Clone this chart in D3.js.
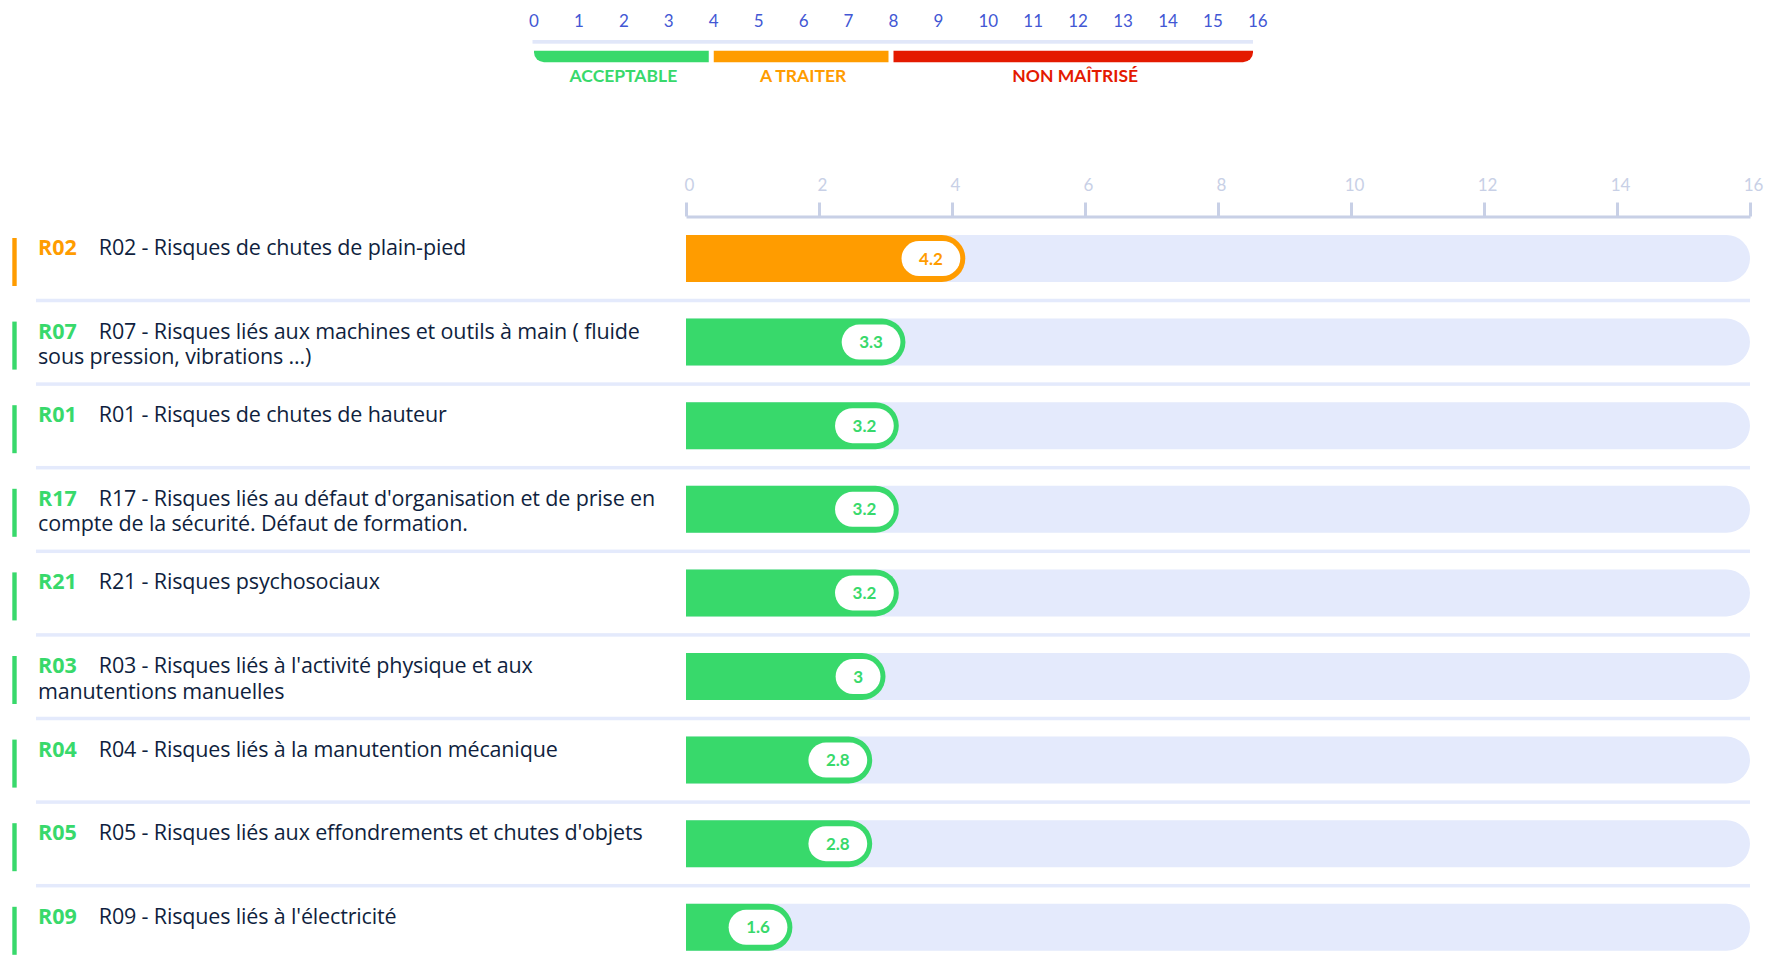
<!DOCTYPE html>
<html>
<head>
<meta charset="utf-8">
<script src="https://cdn.jsdelivr.net/npm/d3@7"></script>
<style>
  html, body { margin: 0; padding: 0; background: #ffffff; }
  svg { display: block; font-family: Lato, "Open Sans", sans-serif; }
</style>
</head>
<body>
<svg id="chart" width="1769" height="963"></svg>
<script>
// ---------- data ----------
const codes = ["R02", "R07", "R01", "R17", "R21", "R03", "R04", "R05", "R09"];
const labels = [
  "R02 - Risques de chutes de plain-pied",
  "R07 - Risques liés aux machines et outils à main ( fluide\nsous pression, vibrations ...)",
  "R01 - Risques de chutes de hauteur",
  "R17 - Risques liés au défaut d'organisation et de prise en\ncompte de la sécurité. Défaut de formation.",
  "R21 - Risques psychosociaux",
  "R03 - Risques liés à l'activité physique et aux\nmanutentions manuelles",
  "R04 - Risques liés à la manutention mécanique",
  "R05 - Risques liés aux effondrements et chutes d'objets",
  "R09 - Risques liés à l'électricité"
];
const values = [4.2, 3.3, 3.2, 3.2, 3.2, 3, 2.8, 2.8, 1.6];

const levelNames = ["ACCEPTABLE", "A TRAITER", "NON MAÎTRISÉ"];
const levelBounds = [0, 4, 8, 16];
const levelColors = ["#38d96b", "#ff9c00", "#e41a00"];
const topTicks = d3.range(0, 17);
const axisTicks = [0, 2, 4, 6, 8, 10, 12, 14, 16];

// ---------- setup ----------
const svg = d3.select("#chart");
const levelColor = v => levelColors[Math.min(levelColors.length - 1, d3.bisectRight(levelBounds, v) - 1)];

function roundedPath(x0, x1, y0, h, rRight) {
  const r = Math.min(rRight, (x1 - x0));
  return `M${x0},${y0}H${x1 - r}A${r},${r} 0 0 1 ${x1},${y0 + r}` +
         `V${y0 + h - r}A${r},${r} 0 0 1 ${x1 - r},${y0 + h}H${x0}Z`;
}

// ---------- top legend scale ----------
const tx = d3.scaleLinear().domain([0, 16]).range([534, 1253]);

svg.append("g").selectAll("text").data(topTicks).join("text")
  .attr("x", d => tx(d) - 5)
  .attr("y", 27)
  .attr("text-anchor", "start")
  .attr("font-size", 17)
  .attr("fill", "#4257d4")
  .text(d => d);

svg.append("rect")
  .attr("x", tx(0) - 1.5).attr("y", 40)
  .attr("width", tx(16) - tx(0) + 1.5).attr("height", 3.7)
  .attr("fill", "#e1e7f9");

const bandY = 50.7, bandH = 11.6, bandR = 10;
levelNames.forEach((name, i) => {
  const x0 = tx(levelBounds[i]);
  const x1 = i < levelNames.length - 1 ? tx(levelBounds[i + 1]) - 5 : tx(levelBounds[i + 1]);
  let p;
  if (i === 0) {
    p = `M${x0},${bandY}H${x1}V${bandY + bandH}H${x0 + bandR}A${bandR},${bandR} 0 0 1 ${x0},${bandY + bandH - bandR}Z`;
  } else if (i === levelNames.length - 1) {
    p = `M${x0},${bandY}H${x1}V${bandY + bandH - bandR}A${bandR},${bandR} 0 0 1 ${x1 - bandR},${bandY + bandH}H${x0}Z`;
  } else {
    p = `M${x0},${bandY}H${x1}V${bandY + bandH}H${x0}Z`;
  }
  svg.append("path").attr("d", p).attr("fill", levelColors[i]);
  svg.append("text")
    .attr("x", (x0 + x1) / 2 + 2).attr("y", 81.7)
    .attr("text-anchor", "middle")
    .attr("font-size", 17.5).attr("font-weight", 700)
    .attr("fill", levelColors[i])
    .text(name);
});

// ---------- main chart ----------
const x = d3.scaleLinear().domain([0, 16]).range([686, 1750]);
const step = 83.6, barH = 47;
const y = d3.scaleBand().domain(codes)
  .range([235, 235 + step * (codes.length - (1 - barH / step))])
  .paddingInner(1 - barH / step).paddingOuter(0);

const axisY = 216.5;
const axis = d3.axisTop(x).tickValues(axisTicks).tickSize(14).tickSizeOuter(0).tickPadding(12);
const gAxis = svg.append("g").attr("transform", `translate(0,${axisY})`).call(axis);
gAxis.select(".domain").attr("stroke", "#c8d0e6").attr("stroke-width", 3);
gAxis.selectAll(".tick line").attr("stroke", "#c8d0e6").attr("stroke-width", 3);
gAxis.selectAll(".tick text").attr("fill", "#c8d0e6").attr("font-size", 17)
  .attr("font-family", "Lato, sans-serif").attr("dx", 3);

const rows = svg.append("g").selectAll("g.row").data(codes).join("g").attr("class", "row");

// separators
rows.filter((d, i) => i < codes.length - 1).append("rect")
  .attr("x", 36).attr("width", 1750 - 36)
  .attr("y", d => y(d) + barH + 18.5 - 1.75).attr("height", 3.5)
  .attr("fill", "#e4eafc");

// left indicators
rows.append("rect")
  .attr("x", 12.3).attr("width", 4.4)
  .attr("y", d => y(d) + 3).attr("height", 48)
  .attr("fill", (d, i) => levelColor(values[i]));

// label text
rows.each(function(d, i) {
  const g = d3.select(this);
  const lines = labels[i].split("\n");
  const t = g.append("text")
    .attr("x", 38).attr("y", y(d) + 20)
    .attr("font-family", "'Open Sans', sans-serif")
    .attr("letter-spacing", -0.15)
    .attr("font-size", 21.5).attr("fill", "#101f3e");
  t.append("tspan").attr("font-weight", 700).attr("letter-spacing", 0)
    .attr("fill", levelColor(values[i])).text(d);
  t.append("tspan").attr("dx", 22).text(lines[0]);
  lines.slice(1).forEach(l => {
    t.append("tspan").attr("x", 38).attr("dy", 25.5).text(l);
  });
});

// background bars
rows.append("path")
  .attr("d", d => roundedPath(x(0), x(16), y(d), barH, barH / 2))
  .attr("fill", "#e4eafc");

// value bars
rows.append("path")
  .attr("d", (d, i) => roundedPath(x(0), x(values[i]), y(d), barH, barH / 2))
  .attr("fill", (d, i) => levelColor(values[i]));

// value pills
rows.each(function(d, i) {
  const g = d3.select(this);
  const v = values[i];
  const col = levelColor(v);
  const pill = g.append("rect").attr("fill", "#ffffff");
  const txt = g.append("text")
    .attr("font-size", 17).attr("font-weight", 700).attr("fill", col)
    .attr("text-anchor", "middle")
    .text(v);
  const tw = txt.node().getComputedTextLength();
  const pw = tw + 35, ph = 35;
  const right = x(v) - 5;
  const cy = y(d) + barH / 2;
  pill.attr("x", right - pw).attr("y", cy - ph / 2)
    .attr("width", pw).attr("height", ph).attr("rx", ph / 2).attr("ry", ph / 2);
  txt.attr("x", right - pw / 2).attr("y", cy + 6);
});
</script>
</body>
</html>
